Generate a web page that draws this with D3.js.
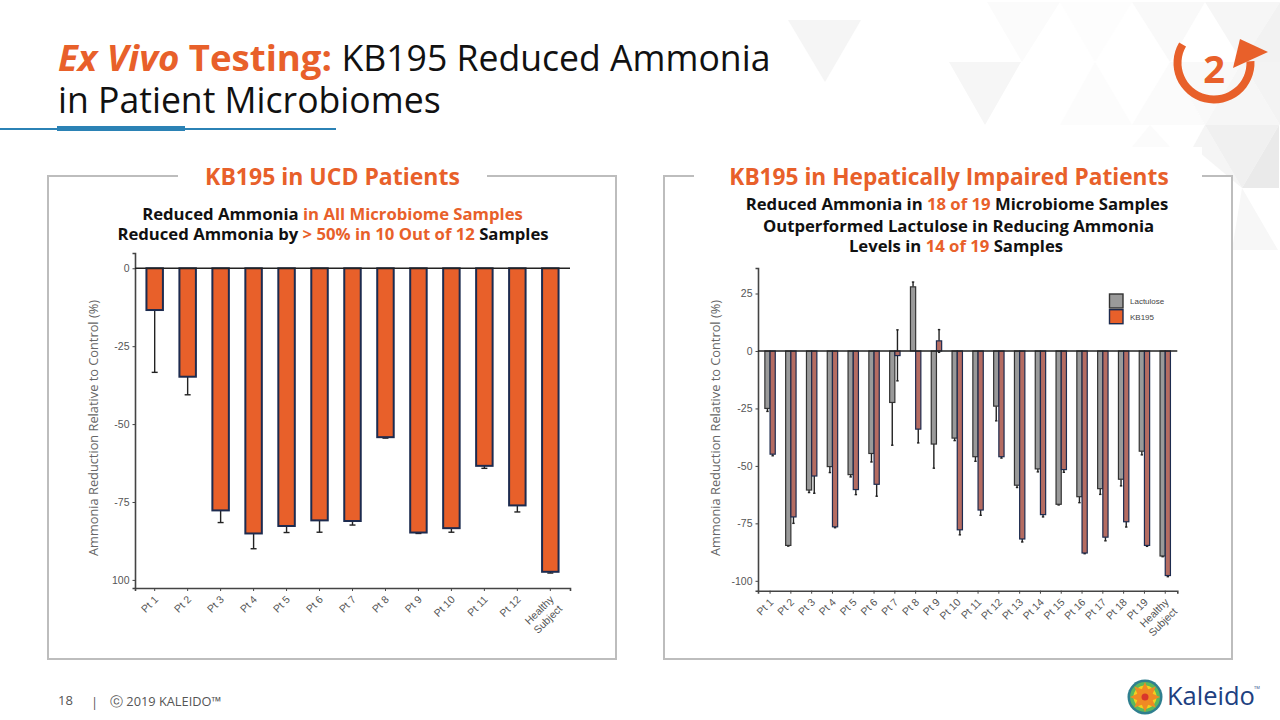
<!DOCTYPE html>
<html><head><meta charset="utf-8">
<style>html,body{margin:0;padding:0;background:#fff}svg{display:block}
text{font-family:"Open Sans",sans-serif}
.axis text{font-family:"Liberation Sans",Arial,sans-serif;fill:#555}
</style>
<script src="https://cdn.jsdelivr.net/npm/d3@7"></script></head><body>
<svg id="c" width="1280" height="720"></svg>
<script>
const ucdCategories=["Pt 1","Pt 2","Pt 3","Pt 4","Pt 5","Pt 6","Pt 7","Pt 8","Pt 9","Pt 10","Pt 11","Pt 12","Healthy Subject"];
const ucdValues=[-13.4,-34.8,-77.7,-85.1,-82.7,-80.9,-81.1,-54.2,-84.8,-83.4,-63.4,-76.1,-97.4];
const ucdErrors=[-33.4,-40.6,-81.6,-90,-84.8,-84.7,-82.4,-54.5,-85.1,-84.7,-64.2,-78.2,-97.8];
const ucdTickValues=[0,-25,-50,-75,-100];
const ucdTickLabels=["0","-25","-50","-75","100"];
const hepCategories=["Pt 1","Pt 2","Pt 3","Pt 4","Pt 5","Pt 6","Pt 7","Pt 8","Pt 9","Pt 10","Pt 11","Pt 12","Pt 13","Pt 14","Pt 15","Pt 16","Pt 17","Pt 18","Pt 19","Healthy Subject"];
const lactulose=[-25,-84.6,-60.5,-50.3,-53.8,-44.6,-22.4,27.9,-40.5,-37.9,-46,-24,-58.4,-51.3,-66.7,-63.4,-59.9,-55.8,-43.6,-89.2];
const lactuloseErr=[-26.3,-84.9,-61.6,-52.9,-54.8,-48.3,-41,30,-51,-39,-48,-30.4,-59.4,-52.6,-67,-66,-62.4,-58.7,-45.2,-89.5];
const kb195=[-44.9,-72.2,-54.4,-76.5,-60.3,-58,-2,-34,4.4,-77.8,-69.2,-46,-81.8,-71.2,-51.6,-87.9,-81,-74.3,-84.6,-97.7];
const kb195Err=[-45.6,-75,-61.9,-76.9,-62.5,-63.2,-13,-40,9.3,-80,-71.5,-46.6,-83.1,-72.2,-52.8,-88.2,-82.6,-76.6,-85,-98.2];
const kb195ErrUpper=[null,null,null,null,null,null,9.2,null,-0.6,null,null,null,null,null,null,null,null,null,null,null];
const hepTickValues=[25,0,-25,-50,-75,-100];
const hepTickLabels=["25","0","-25","-50","-75","-100"];
const seriesNames=["Lactulose","KB195"];
const yTitle="Ammonia Reduction Relative to Control (%)";

const ORANGE="#e8602a",NAVY="#1d2b4f",GREY="#9a9a9a";
const svg=d3.select("#c");

// decorative background
const tris=[[[788,20],[861,20],[825,82],"#f5f5f5"],[[949,62],[1021,62],[985,125],"#f6f6f6"],
[[987,2],[1060,2],[1022,62],"#fbfbfb"],[[1060,2],[1132,2],[1095,62],"#fdfdfd"],[[1132,2],[1205,2],[1170,62],"#f9f9f9"],
[[1205,2],[1280,2],[1242,62],"#f6f6f6"],
[[1060,125],[1095,62],[1132,125],"#fcfcfc"],[[1132,125],[1170,62],[1205,125],"#fbfbfb"],[[1170,62],[1242,62],[1205,125],"#f9f9f9"],
[[1205,125],[1242,62],[1280,125],"#f6f6f6"],[[1242,62],[1280,2],[1280,62],"#f2f2f2"],[[1242,62],[1280,62],[1280,125],"#f3f3f3"],
[[1132,147],[1150,125],[1170,147],"#fbfbfb"],[[1193,147],[1205,125],[1242,188],"#f5f5f5"],[[1205,125],[1279,125],[1242,188],"#f0f0f0"],[[1242,188],[1279,125],[1279,188],"#eaeaea"],[[1242,188],[1278,250],[1232,250],"#f7f7f7"]];
svg.append("g").selectAll("polygon").data(tris).join("polygon")
 .attr("points",d=>d.slice(0,3).map(p=>p.join(",")).join(" ")).attr("fill",d=>d[3]);

// title
const title=svg.append("text").attr("x",58).attr("y",71).attr("font-size",35.6).attr("fill","#111");
title.append("tspan").text("Ex Vivo ").attr("font-weight",700).attr("font-style","italic").attr("fill",ORANGE).attr("font-size",36.6);
title.append("tspan").text("Testing: ").attr("font-weight",700).attr("fill",ORANGE).attr("font-size",36.6);
title.append("tspan").text("KB195 Reduced Ammonia");
svg.append("text").attr("x",58).attr("y",113).attr("font-size",35.6).attr("fill","#111").text("in Patient Microbiomes");
svg.append("rect").attr("x",0).attr("y",128).attr("width",336).attr("height",2).attr("fill","#2b82b5");
svg.append("rect").attr("x",57).attr("y",126).attr("width",128).attr("height",5).attr("fill","#2b82b5");

// circular arrow
const arc=d3.arc().innerRadius(32.5).outerRadius(40.5).startAngle(-Math.PI*0.33).endAngle(-Math.PI*1.5-0.05);
svg.append("path").attr("d",arc()).attr("transform","translate(1214,63)").attr("fill",ORANGE);
svg.append("polygon").attr("points","1240,39 1268,52 1233,68").attr("fill",ORANGE);
svg.append("text").attr("x",1214).attr("y",83).attr("text-anchor","middle").attr("font-size",38).attr("font-weight",700).attr("fill",ORANGE).text("2");

// panels
function panel(x,w,gapX,gapW){
 svg.append("rect").attr("x",x).attr("y",176).attr("width",w).attr("height",483).attr("fill","#fff").attr("stroke","#bdbdbd").attr("stroke-width",2);
 svg.append("rect").attr("x",gapX).attr("y",147).attr("width",gapW).attr("height",50).attr("fill","#fff");
}
panel(48,568,178,309);
panel(664,568,694,508);
function head(x,t,fs){svg.append("text").attr("x",x).attr("y",185).attr("text-anchor","middle").attr("font-size",fs).attr("font-weight",700).attr("fill",ORANGE).text(t);}
head(332.5,"KB195 in UCD Patients",23);
head(949,"KB195 in Hepatically Impaired Patients",22.7);
function rich(x,y,parts){
 const t=svg.append("text").attr("x",x).attr("y",y).attr("text-anchor","middle").attr("font-size",16.7).attr("font-weight",700).attr("fill","#111");
 parts.forEach(p=>t.append("tspan").text(p[0]).attr("fill",p[1]?ORANGE:"#111"));
}
rich(332.5,220,[["Reduced Ammonia "],["in All Microbiome Samples",1]]);
rich(333,240,[["Reduced Ammonia by "],["> 50% in 10 Out of 12",1],[" Samples"]]);
rich(957,210,[["Reduced Ammonia in "],["18 of 19",1],[" Microbiome Samples"]]);
rich(958.5,232,[["Outperformed Lactulose in Reducing Ammonia"]]);
rich(956,252,[["Levels in "],["14 of 19",1],[" Samples"]]);

// shared axis drawing
function axes(g,x,y,tv,tl,titleX){
 const left=x.range()[0];
 const ya=g.append("g").attr("class","axis").attr("transform",`translate(${left},0)`)
  .call(d3.axisLeft(y).tickValues(tv).tickFormat((d,i)=>tl[i]).tickSize(2.5).tickPadding(3));
 ya.selectAll("text").attr("font-size",10.5);
 const b=y.range()[1];
 const xa=g.append("g").attr("class","axis").attr("transform",`translate(0,${b})`)
  .call(d3.axisBottom(x).tickSize(3).tickFormat(""));
 g.selectAll(".axis path,.axis line").attr("stroke","#444");
 g.selectAll(".axis path").attr("stroke-width",1.6);
 xa.selectAll(".tick").each(function(d){
  const t=d3.select(this).append("text").attr("transform","translate(2,10) rotate(-45)").attr("text-anchor","end").attr("font-size",10.5).attr("fill","#555");
  if(d.startsWith("Healthy")){
   const w=d.split(" ");
   t.append("tspan").attr("x",0).attr("y",3).text(w[0]);
   t.append("tspan").attr("x",-0.7).attr("dy",12.5).text(w[1]);
  } else t.append("tspan").attr("y",3).text(d);
 });
 g.append("text").attr("transform",`translate(${titleX},428) rotate(-90)`).attr("text-anchor","middle").attr("font-size",12.8).attr("fill","#666").text(yTitle);
}
function errs(g,data,cx,y,cap,color){
 g.selectAll(null).data(data.filter(d=>d.e!=null)).join("g").each(function(d){
  const s=d3.select(this);
  s.append("line").attr("x1",cx(d)).attr("x2",cx(d)).attr("y1",y(d.v)).attr("y2",y(d.e)).attr("stroke",color).attr("stroke-width",1.4);
  s.append("line").attr("x1",cx(d)-cap).attr("x2",cx(d)+cap).attr("y1",y(d.e)).attr("y2",y(d.e)).attr("stroke",color).attr("stroke-width",1.4);
 });
}

// left chart
{
 const g=svg.append("g");
 const x=d3.scaleBand().domain(ucdCategories).range([135,570]).paddingInner(0.5).paddingOuter(0.347);
 const y=d3.scaleLinear().domain([4.9,-102.6]).range([253,588]);
 const data=ucdCategories.map((c,i)=>({c,v:ucdValues[i],e:ucdErrors[i]}));
 errs(g,data,d=>x(d.c)+x.bandwidth()/2,y,3,"#222");
 g.selectAll("rect.b").data(data).join("rect").attr("class","b")
  .attr("x",d=>x(d.c)).attr("width",x.bandwidth()).attr("y",y(0)).attr("height",d=>y(d.v)-y(0))
  .attr("fill",ORANGE).attr("stroke",NAVY).attr("stroke-width",2);
 axes(g,x,y,ucdTickValues,ucdTickLabels,98);
 g.append("line").attr("x1",135).attr("x2",570).attr("y1",y(0)).attr("y2",y(0)).attr("stroke","#222").attr("stroke-width",1.6);
}
// right chart
{
 const g=svg.append("g");
 const x=d3.scaleBand().domain(hepCategories).range([758,1177.3]).paddingInner(0.5).paddingOuter(0.33);
 const x1=d3.scaleBand().domain(seriesNames).range([0,x.bandwidth()]);
 const y=d3.scaleLinear().domain([36.1,-104.3]).range([268,590.7]);
 const cx=(c,s)=>x(c)+x1(s)+x1.bandwidth()/2;
 const L=hepCategories.map((c,i)=>({c,v:lactulose[i],e:lactuloseErr[i]}));
 const K=hepCategories.map((c,i)=>({c,v:kb195[i],e:kb195Err[i]}));
 const KU=hepCategories.map((c,i)=>({c,v:kb195[i],e:kb195ErrUpper[i]}));
 errs(g,L,d=>cx(d.c,"Lactulose"),y,1.2,"#222");
 errs(g,K,d=>cx(d.c,"KB195"),y,1.2,"#222");
 errs(g,KU,d=>cx(d.c,"KB195"),y,1.2,"#222");
 const bars=(data,name,fill,stroke)=>g.selectAll(null).data(data).join("rect")
  .attr("x",d=>x(d.c)+x1(name)).attr("width",x1.bandwidth())
  .attr("y",d=>y(Math.max(d.v,0))).attr("height",d=>Math.abs(y(d.v)-y(0)))
  .attr("fill",fill).attr("stroke",stroke).attr("stroke-width",1.2);
 bars(L,"Lactulose",GREY,"#333");
 bars(K,"KB195","#b56c62",NAVY);
 axes(g,x,y,hepTickValues,hepTickLabels,720);
 g.append("line").attr("x1",758).attr("x2",1177.3).attr("y1",y(0)).attr("y2",y(0)).attr("stroke","#222").attr("stroke-width",1.4);
 // legend
 const leg=g.append("g").selectAll("g").data(seriesNames).join("g").attr("transform",(d,i)=>`translate(1109.5,${294+i*15.7})`);
 leg.append("rect").attr("width",13.5).attr("height",14).attr("fill",(d,i)=>i?ORANGE:GREY).attr("stroke",(d,i)=>i?NAVY:"#333").attr("stroke-width",1.4);
 leg.append("text").attr("x",20.5).attr("y",10).attr("font-size",8).attr("fill","#444").style("font-family","Liberation Sans").text(d=>d);
}

// footer
svg.append("text").attr("x",58).attr("y",705).attr("font-size",13).attr("fill","#555").text("18");
svg.append("text").attr("x",91).attr("y",707).attr("font-size",13).attr("fill","#555").text("|");
svg.append("text").attr("x",110).attr("y",706).attr("font-size",12.8).attr("fill","#555").text("ⓒ 2019 KALEIDO™");

// logo
const lg=svg.append("g").attr("transform","translate(1145,697)");
lg.append("circle").attr("r",17.5).attr("fill","#2f7f8f");
lg.append("circle").attr("r",15).attr("fill","#5cb85c");
lg.append("circle").attr("r",11.5).attr("fill","#f2d11f");
d3.range(8).forEach(i=>lg.append("polygon").attr("points","0,0 -3.5,-7 0,-15 3.5,-7").attr("fill","#f08a24").attr("transform",`rotate(${i*45})`));
lg.append("circle").attr("r",3.5).attr("fill","#d9362b");
svg.append("text").attr("x",1167).attr("y",705).attr("font-size",25.5).attr("fill","#20407f").text("Kaleido");
svg.append("text").attr("x",1254).attr("y",689).attr("font-size",4).attr("fill","#20407f").text("TM");
</script></body></html>
